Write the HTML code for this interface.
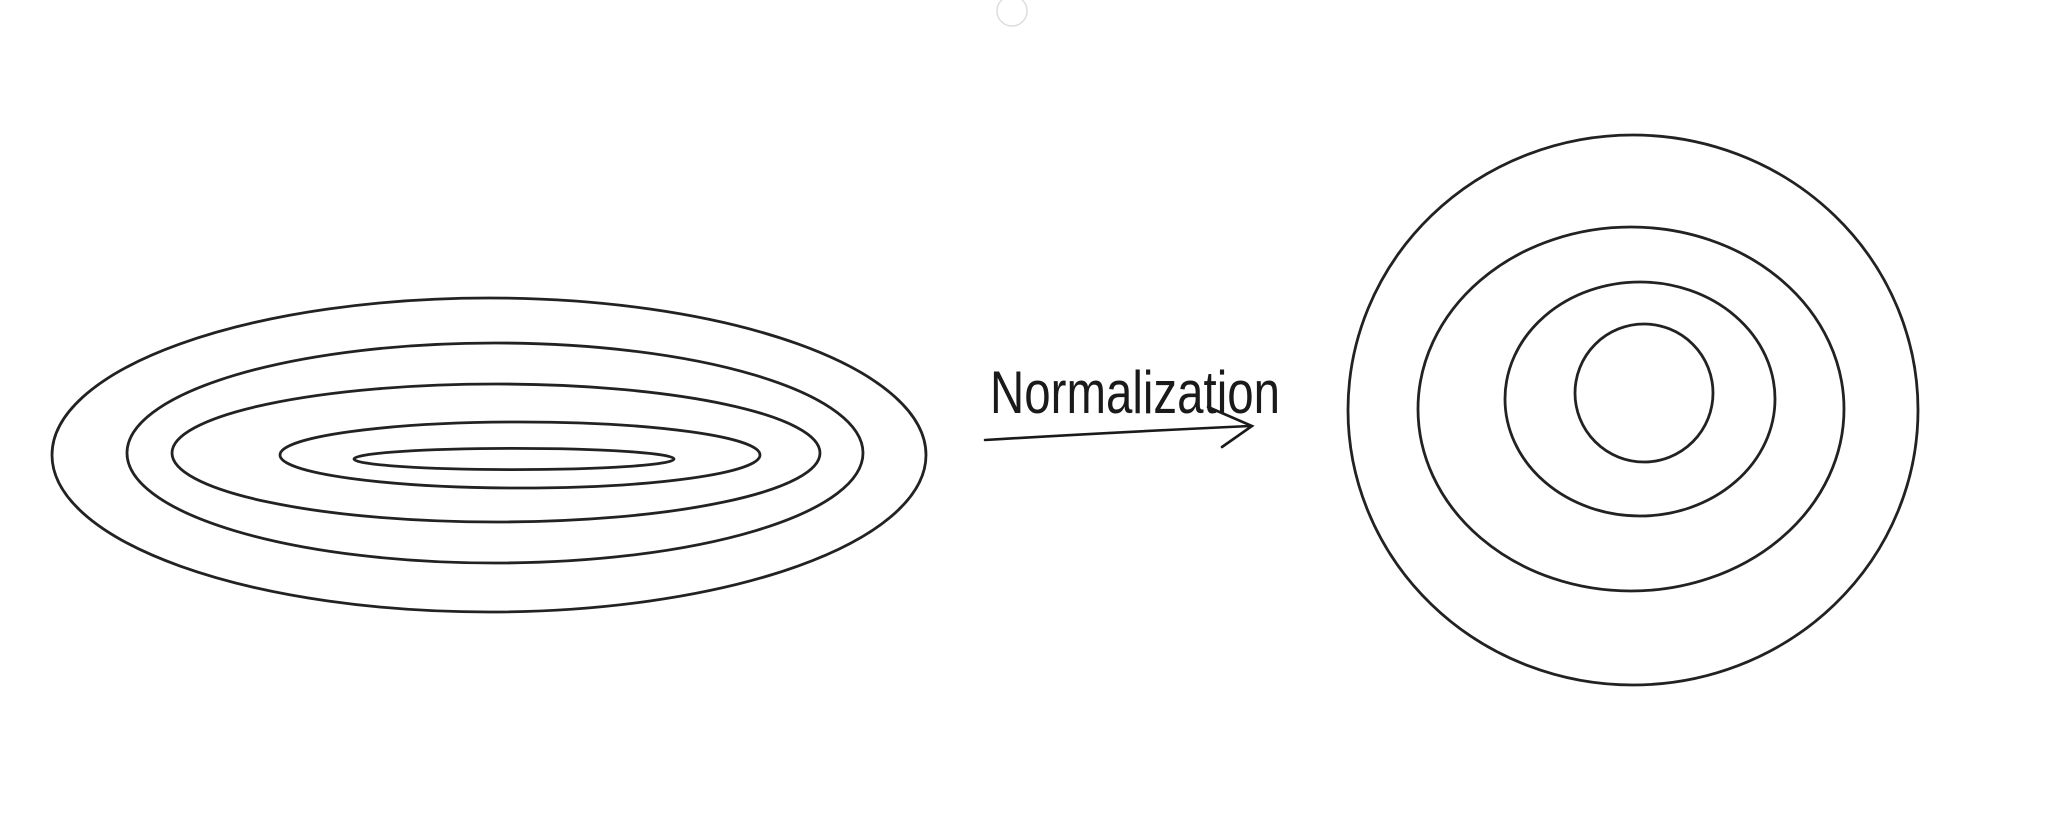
<!DOCTYPE html>
<html><head><meta charset="utf-8"><style>
html,body{margin:0;padding:0;background:#fff;width:2061px;height:836px;overflow:hidden}
</style></head><body>
<svg id="chart" width="2061" height="836" viewBox="0 0 2061 836" xmlns="http://www.w3.org/2000/svg">
<rect width="2061" height="836" fill="#fff"/>
<circle cx="1012" cy="11" r="15" fill="none" stroke="#ddd" stroke-width="1.5"/>
<g id="left"></g>
<g id="right"></g>
<text x="990" y="413" font-family="'Liberation Sans', sans-serif" font-size="60" textLength="290" lengthAdjust="spacingAndGlyphs" fill="#1a1a1a">Normalization</text>
<path d="M985 440 Q1100 433 1250 426 M1208 407 L1252 426 L1222 447" fill="none" stroke="#1a1a1a" stroke-width="2.6" stroke-linecap="round"/>
</svg>
<script>
const leftCx=[489,495,496,520,514];
const leftCy=[455,453,453,455,459];
const leftRx=[437,368,324,240,160];
const leftRy=[157,110,69,33,10.6];
const rightCx=[1633,1631,1640,1644];
const rightCy=[410,409,399,393];
const rightRx=[285,213,135,69];
const rightRy=[275,182,117,69];
const NS='http://www.w3.org/2000/svg';
function draw(g,cx,cy,rx,ry,prefix){
  for(let i=0;i<cx.length;i++){
    const e=document.createElementNS(NS,'ellipse');
    e.setAttribute('cx',cx[i]);e.setAttribute('cy',cy[i]);
    e.setAttribute('rx',rx[i]);e.setAttribute('ry',ry[i]);
    e.setAttribute('fill','none');e.setAttribute('stroke','#222');e.setAttribute('stroke-width','2.8');
    
    
    g.appendChild(e);
  }
}
draw(document.getElementById('left'),leftCx,leftCy,leftRx,leftRy,'left');
draw(document.getElementById('right'),rightCx,rightCy,rightRx,rightRy,'right');
</script>
</body></html>
